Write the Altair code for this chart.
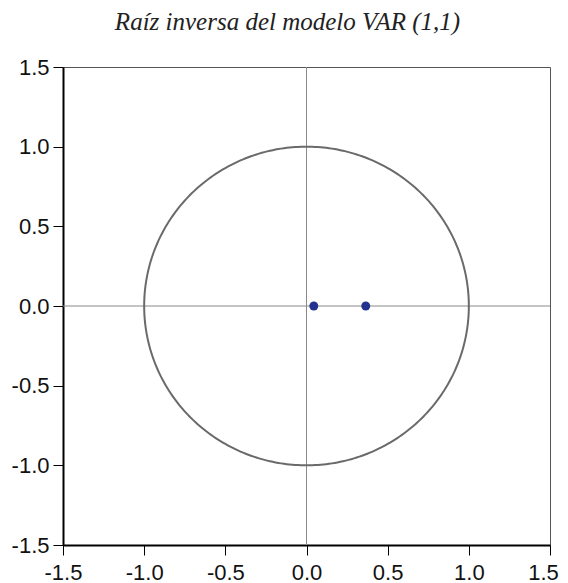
import numpy as np
import pandas as pd
import altair as alt

# Inverse roots (real, imaginary)
root_re = [0.045, 0.365]
root_im = [0.0, 0.0]

ticks = [-1.5, -1.0, -0.5, 0.0, 0.5, 1.0, 1.5]

# unit circle (geometric reference)
theta = np.linspace(0, 2 * np.pi, 361)
circle = pd.DataFrame({"x": np.cos(theta), "y": np.sin(theta), "i": np.arange(361)})
roots = pd.DataFrame({"x": root_re, "y": root_im})

xs = alt.Scale(domain=[-1.5, 1.5], nice=False, zero=False)
ys = alt.Scale(domain=[-1.5, 1.5], nice=False, zero=False)

ax_common = dict(values=ticks, format=".1f", grid=False, title=None,
                 labelExpr="replace(datum.label, '\u2212', '-')",
                 domainColor="#000000", domainWidth=2, tickColor="#000000",
                 tickWidth=1, tickSize=10, labelFont="Liberation Sans",
                 labelFontSize=22, labelColor="#111111",
                 labelFlush=False)

base = alt.Chart(circle)

circ = base.mark_line(color="#6a6a6a", strokeWidth=2).encode(
    x=alt.X("x:Q", scale=xs, axis=alt.Axis(
        orient="bottom", labelPadding=7,
        labelOffset={"condition": {"test": "datum.value == 1.5", "value": -7}, "value": 0},
        **ax_common)),
    y=alt.Y("y:Q", scale=ys, axis=alt.Axis(orient="left", labelPadding=4, **ax_common)),
    order="i:O",
)

zero = pd.DataFrame({"v": [0.0]})
vrule = alt.Chart(zero).mark_rule(color="#8a8a8a", strokeWidth=1).encode(
    x=alt.X("v:Q", scale=xs))
hrule = alt.Chart(zero).mark_rule(color="#8a8a8a", strokeWidth=1).encode(
    y=alt.Y("v:Q", scale=ys))

pts = alt.Chart(roots).mark_circle(color="#22338f", opacity=1, size=80).encode(
    x=alt.X("x:Q", scale=xs), y=alt.Y("y:Q", scale=ys))

chart = alt.layer(vrule, hrule, circ, pts).properties(
    width=487, height=478,
    title=alt.TitleParams("Raíz inversa del modelo VAR (1,1)", font="Liberation Serif",
                          fontStyle="italic", fontWeight="normal", fontSize=25,
                          color="#222222", anchor="middle", offset=21, dx=-19),
    autosize=alt.AutoSizeParams(type="none"),
    padding={"left": 55, "top": 59, "right": 10, "bottom": 38},
).configure_view(stroke="#555555", strokeWidth=1)

chart.save("out.html", embed_options={"renderer": "svg", "actions": False})
